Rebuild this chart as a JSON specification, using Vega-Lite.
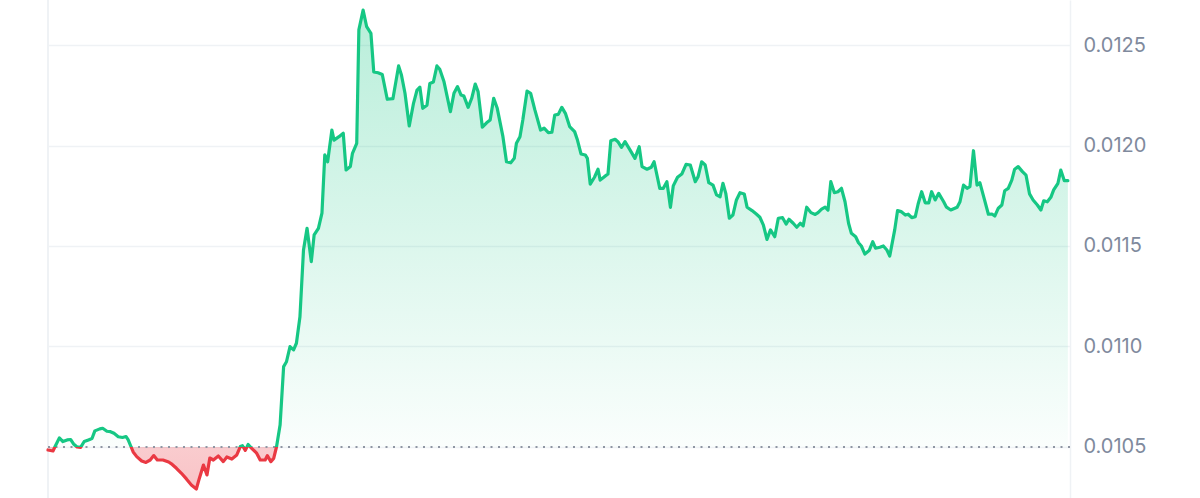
{
  "$schema": "https://vega.github.io/schema/vega-lite/v6.json",
  "width": 1022,
  "height": 498,
  "autosize": {"type": "none"},
  "padding": {"left": 48, "top": 0, "right": 130, "bottom": 0},
  "background": "white",
  "config": {"view": {"stroke": null}},
  "datasets": {
    "price": [
      {"t":0,"p":0.010485},{"t":7,"p":0.010480},{"t":10,"p":0.010502},{"t":16,"p":0.010545},{"t":21,"p":0.010527},
      {"t":27,"p":0.010535},{"t":32,"p":0.010537},{"t":36,"p":0.010515},{"t":41,"p":0.010500},{"t":46,"p":0.010498},
      {"t":51,"p":0.010527},{"t":57,"p":0.010535},{"t":62,"p":0.010542},{"t":66,"p":0.010580},{"t":73,"p":0.010590},
      {"t":77,"p":0.010593},{"t":83,"p":0.010578},{"t":88,"p":0.010576},{"t":93,"p":0.010568},{"t":99,"p":0.010551},
      {"t":105,"p":0.010547},{"t":110,"p":0.010552},{"t":113,"p":0.010535},{"t":117,"p":0.010501},{"t":120,"p":0.010475},
      {"t":125,"p":0.010452},{"t":132,"p":0.010430},{"t":138,"p":0.010423},{"t":144,"p":0.010435},{"t":149,"p":0.010457},
      {"t":154,"p":0.010435},{"t":162,"p":0.010435},{"t":170,"p":0.010425},{"t":175,"p":0.010413},{"t":181,"p":0.010394},
      {"t":188,"p":0.010369},{"t":195,"p":0.010341},{"t":202,"p":0.010311},{"t":209,"p":0.010291},{"t":213,"p":0.010341},
      {"t":219,"p":0.010410},{"t":224,"p":0.010361},{"t":228,"p":0.010445},{"t":233,"p":0.010435},{"t":240,"p":0.010455},
      {"t":247,"p":0.010427},{"t":252,"p":0.010450},{"t":259,"p":0.010440},{"t":266,"p":0.010460},{"t":271,"p":0.010502},
      {"t":274,"p":0.010506},{"t":278,"p":0.010483},{"t":282,"p":0.010512},{"t":287,"p":0.010493},{"t":294,"p":0.010469},
      {"t":299,"p":0.010435},{"t":306,"p":0.010435},{"t":309,"p":0.010457},{"t":314,"p":0.010427},{"t":318,"p":0.010443},
      {"t":322,"p":0.010501},{"t":327,"p":0.010609},{"t":332,"p":0.010900},{"t":336,"p":0.010924},{"t":341,"p":0.010999},
      {"t":346,"p":0.010983},{"t":350,"p":0.011016},{"t":355,"p":0.011148},{"t":360,"p":0.011480},{"t":365,"p":0.011588},
      {"t":371,"p":0.011422},{"t":375,"p":0.011555},{"t":381,"p":0.011588},{"t":386,"p":0.011663},{"t":390,"p":0.011953},
      {"t":394,"p":0.011919},{"t":400,"p":0.012077},{"t":403,"p":0.012027},{"t":410,"p":0.012044},{"t":416,"p":0.012061},
      {"t":420,"p":0.011878},{"t":426,"p":0.011895},{"t":429,"p":0.011961},{"t":435,"p":0.012011},{"t":438,"p":0.012575},
      {"t":444,"p":0.012674},{"t":449,"p":0.012591},{"t":455,"p":0.012558},{"t":459,"p":0.012366},{"t":465,"p":0.012362},
      {"t":471,"p":0.012353},{"t":478,"p":0.012230},{"t":486,"p":0.012233},{"t":494,"p":0.012396},{"t":498,"p":0.012351},
      {"t":503,"p":0.012260},{"t":509,"p":0.012097},{"t":515,"p":0.012210},{"t":520,"p":0.012276},{"t":524,"p":0.012290},
      {"t":528,"p":0.012185},{"t":534,"p":0.012201},{"t":538,"p":0.012309},{"t":543,"p":0.012316},{"t":548,"p":0.012396},
      {"t":552,"p":0.012379},{"t":558,"p":0.012317},{"t":567,"p":0.012168},{"t":572,"p":0.012260},{"t":577,"p":0.012293},
      {"t":582,"p":0.012251},{"t":586,"p":0.012246},{"t":592,"p":0.012190},{"t":597,"p":0.012235},{"t":602,"p":0.012306},
      {"t":606,"p":0.012268},{"t":612,"p":0.012091},{"t":618,"p":0.012113},{"t":623,"p":0.012127},{"t":628,"p":0.012235},
      {"t":633,"p":0.012185},{"t":641,"p":0.012044},{"t":646,"p":0.011919},{"t":652,"p":0.011914},{"t":657,"p":0.011936},
      {"t":660,"p":0.012011},{"t":665,"p":0.012044},{"t":669,"p":0.012127},{"t":675,"p":0.012271},{"t":680,"p":0.012260},
      {"t":686,"p":0.012177},{"t":694,"p":0.012077},{"t":699,"p":0.012086},{"t":705,"p":0.012064},{"t":710,"p":0.012066},
      {"t":714,"p":0.012152},{"t":719,"p":0.012155},{"t":724,"p":0.012190},{"t":729,"p":0.012160},{"t":735,"p":0.012094},
      {"t":742,"p":0.012069},{"t":746,"p":0.012027},{"t":751,"p":0.011958},{"t":757,"p":0.011953},{"t":760,"p":0.011936},
      {"t":764,"p":0.011808},{"t":770,"p":0.011842},{"t":775,"p":0.011882},{"t":778,"p":0.011828},{"t":784,"p":0.011845},
      {"t":789,"p":0.011858},{"t":793,"p":0.012024},{"t":799,"p":0.012031},{"t":803,"p":0.012019},{"t":808,"p":0.011991},
      {"t":813,"p":0.012019},{"t":820,"p":0.011978},{"t":827,"p":0.011936},{"t":833,"p":0.011994},{"t":837,"p":0.011895},
      {"t":844,"p":0.011882},{"t":850,"p":0.011892},{"t":854,"p":0.011919},{"t":862,"p":0.011787},{"t":867,"p":0.011787},
      {"t":872,"p":0.011820},{"t":877,"p":0.011692},{"t":881,"p":0.011799},{"t":887,"p":0.011842},{"t":893,"p":0.011858},
      {"t":899,"p":0.011906},{"t":905,"p":0.011903},{"t":912,"p":0.011820},{"t":916,"p":0.011845},{"t":921,"p":0.011919},
      {"t":926,"p":0.011903},{"t":931,"p":0.011815},{"t":937,"p":0.011803},{"t":942,"p":0.011754},{"t":947,"p":0.011745},
      {"t":951,"p":0.011812},{"t":955,"p":0.011762},{"t":960,"p":0.011638},{"t":965,"p":0.011654},{"t":970,"p":0.011729},
      {"t":975,"p":0.011765},{"t":981,"p":0.011759},{"t":985,"p":0.011693},{"t":992,"p":0.011676},{"t":998,"p":0.011659},
      {"t":1003,"p":0.011643},{"t":1008,"p":0.011604},{"t":1013,"p":0.011533},{"t":1018,"p":0.011580},{"t":1024,"p":0.011546},
      {"t":1029,"p":0.011638},{"t":1035,"p":0.011641},{"t":1040,"p":0.011609},{"t":1044,"p":0.011633},{"t":1050,"p":0.011613},
      {"t":1055,"p":0.011593},{"t":1060,"p":0.011613},{"t":1064,"p":0.011600},{"t":1069,"p":0.011693},{"t":1075,"p":0.011666},
      {"t":1081,"p":0.011657},{"t":1085,"p":0.011666},{"t":1090,"p":0.011683},{"t":1095,"p":0.011693},{"t":1099,"p":0.011679},
      {"t":1103,"p":0.011820},{"t":1108,"p":0.011765},{"t":1113,"p":0.011770},{"t":1118,"p":0.011787},{"t":1123,"p":0.011720},
      {"t":1128,"p":0.011613},{"t":1132,"p":0.011563},{"t":1138,"p":0.011546},{"t":1142,"p":0.011516},{"t":1146,"p":0.011500},
      {"t":1151,"p":0.011460},{"t":1157,"p":0.011477},{"t":1162,"p":0.011521},{"t":1166,"p":0.011489},{"t":1172,"p":0.011494},
      {"t":1177,"p":0.011500},{"t":1182,"p":0.011480},{"t":1186,"p":0.011450},{"t":1193,"p":0.011580},{"t":1197,"p":0.011676},
      {"t":1202,"p":0.011671},{"t":1208,"p":0.011654},{"t":1212,"p":0.011658},{"t":1217,"p":0.011641},{"t":1222,"p":0.011646},
      {"t":1226,"p":0.011709},{"t":1231,"p":0.011770},{"t":1236,"p":0.011715},{"t":1241,"p":0.011715},{"t":1245,"p":0.011770},
      {"t":1250,"p":0.011729},{"t":1255,"p":0.011762},{"t":1262,"p":0.011720},{"t":1266,"p":0.011693},{"t":1272,"p":0.011679},
      {"t":1281,"p":0.011693},{"t":1285,"p":0.011720},{"t":1290,"p":0.011803},{"t":1295,"p":0.011787},{"t":1299,"p":0.011795},
      {"t":1304,"p":0.011974},{"t":1309,"p":0.011803},{"t":1313,"p":0.011815},{"t":1319,"p":0.011737},{"t":1325,"p":0.011658},
      {"t":1330,"p":0.011659},{"t":1334,"p":0.011649},{"t":1339,"p":0.011688},{"t":1344,"p":0.011704},{"t":1348,"p":0.011775},
      {"t":1353,"p":0.011787},{"t":1358,"p":0.011828},{"t":1362,"p":0.011882},{"t":1367,"p":0.011895},{"t":1373,"p":0.011870},
      {"t":1378,"p":0.011853},{"t":1383,"p":0.011759},{"t":1388,"p":0.011729},{"t":1394,"p":0.011704},{"t":1399,"p":0.011679},
      {"t":1403,"p":0.011725},{"t":1408,"p":0.011720},{"t":1413,"p":0.011742},{"t":1417,"p":0.011779},{"t":1423,"p":0.011812},
      {"t":1427,"p":0.011878},{"t":1432,"p":0.011825},{"t":1437,"p":0.011825}
    ]
  },
  "layer": [
    {
      "data": {"name": "price"},
      "mark": {
        "type": "area",
        "interpolate": "linear",
        "fill": {
          "gradient": "linear", "x1": 0, "y1": 0, "x2": 0, "y2": 1,
          "stops": [
            {"offset": 0, "color": "rgba(22,199,132,0.30)"},
            {"offset": 0.9123, "color": "rgba(22,199,132,0.02)"},
            {"offset": 0.9123, "color": "rgba(234,57,67,0.26)"},
            {"offset": 1, "color": "rgba(234,57,67,0.30)"}
          ]
        }
      },
      "encoding": {
        "x": {"field": "t", "type": "quantitative", "scale": {"domain": [0, 1440], "nice": false, "zero": false}, "axis": null},
        "y": {
          "field": "p", "type": "quantitative",
          "scale": {"domain": [0.010246, 0.012724], "nice": false, "zero": false},
          "axis": {
            "orient": "right", "values": [0.0105, 0.011, 0.0115, 0.012, 0.0125], "format": ".4f",
            "title": null, "ticks": false, "labelPadding": 13,
            "labelFont": "Inter", "labelFontSize": 20, "labelColor": "#808a9d",
            "gridColor": "#eff2f5", "gridWidth": 1.5,
            "domainColor": "#eff2f5", "domainWidth": 1.5
          }
        },
        "y2": {"datum": 0.0105}
      }
    },
    {
      "data": {"values": [{}]},
      "mark": {"type": "rule", "color": "#eff2f5", "strokeWidth": 2},
      "encoding": {"x": {"datum": 0}}
    },
    {
      "data": {"values": [{}]},
      "mark": {"type": "rule", "color": "#8f96a3", "strokeWidth": 2, "strokeDash": [2, 5.5]},
      "encoding": {"y": {"datum": 0.0105}}
    },
    {
      "data": {"name": "price"},
      "mark": {
        "type": "line",
        "interpolate": "linear",
        "strokeWidth": 3.2,
        "strokeJoin": "round",
        "strokeCap": "round",
        "stroke": {
          "gradient": "linear", "x1": 0, "y1": 0, "x2": 0, "y2": 1,
          "stops": [
            {"offset": 0, "color": "#16c784"},
            {"offset": 0.9123, "color": "#16c784"},
            {"offset": 0.9123, "color": "#ea3943"},
            {"offset": 1, "color": "#ea3943"}
          ]
        }
      },
      "encoding": {
        "x": {"field": "t", "type": "quantitative"},
        "y": {"field": "p", "type": "quantitative"}
      }
    }
  ]
}
